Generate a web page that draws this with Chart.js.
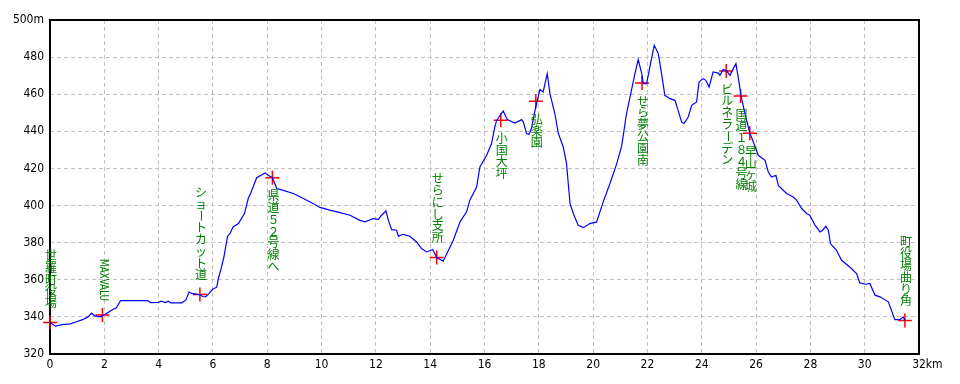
<!DOCTYPE html>
<html lang="ja">
<head>
  <meta charset="UTF-8">
  <title>高低図 - 世羅町</title>
  <script src="https://cdn.jsdelivr.net/npm/chart.js"></script>
  <style>
    html, body { margin: 0; padding: 0; background: #fff; }
  </style>
</head>
<body>
  <canvas id="profileChart" width="960" height="384"></canvas>

  <script>
    // 距離 (km)
    const distKm = [
      0.00, 0.20, 0.45, 0.75, 1.00, 1.20, 1.40, 1.53, 1.65, 1.85,
      2.05, 2.25, 2.45, 2.60, 3.60, 3.70, 4.00, 4.10, 4.25, 4.35,
      4.45, 4.85, 5.00, 5.12, 5.25, 5.50, 5.62, 5.73, 5.85, 6.00,
      6.14, 6.20, 6.30, 6.40, 6.54, 6.63, 6.74, 6.94, 7.16, 7.30,
      7.40, 7.61, 7.92, 8.04, 8.19, 8.35, 8.59, 8.96, 9.33, 9.70,
      9.94, 10.30, 10.68, 11.05, 11.41, 11.60, 11.90, 12.09, 12.21, 12.37,
      12.46, 12.58, 12.76, 12.83, 13.00, 13.25, 13.50, 13.68, 13.87, 14.09,
      14.24, 14.48, 14.85, 15.10, 15.34, 15.46, 15.71, 15.83, 16.08, 16.26,
      16.38, 16.45, 16.69, 16.84, 17.12, 17.37, 17.43, 17.55, 17.64, 17.73,
      17.86, 18.04, 18.16, 18.31, 18.41, 18.59, 18.72, 18.90, 19.02, 19.15,
      19.27, 19.45, 19.64, 19.88, 20.13, 20.37, 20.62, 20.87, 21.05, 21.23,
      21.54, 21.66, 21.79, 21.85, 21.97, 22.09, 22.25, 22.40, 22.52, 22.64,
      22.83, 23.01, 23.13, 23.26, 23.35, 23.50, 23.63, 23.81, 23.90, 24.05,
      24.15, 24.27, 24.42, 24.61, 24.67, 24.79, 24.92, 25.04, 25.16, 25.26,
      25.38, 25.45, 25.59, 25.77, 25.90, 26.08, 26.33, 26.45, 26.57, 26.73,
      26.82, 27.12, 27.37, 27.49, 27.68, 27.86, 27.98, 28.17, 28.36, 28.45,
      28.57, 28.66, 28.74, 28.96, 29.15, 29.45, 29.70, 29.82, 30.04, 30.19,
      30.38, 30.56, 30.87, 31.11, 31.30, 31.42, 31.48
    ];

    // 標高 (m)
    const elevM = [
      337, 335, 335.8, 336.2, 337.5, 338.5, 340, 342, 340.5, 340,
      341.5, 343.5, 345, 348.8, 348.8, 347.7, 347.8, 348.5, 347.7, 348.5,
      347.6, 347.6, 349, 353.4, 352.5, 352, 351, 350.8, 352.5, 355,
      356, 360.7, 366, 372, 383.5, 385, 388.5, 390.3, 395.7, 403.8,
      407, 415, 417.6, 416.3, 415, 409.2, 408.2, 406.5, 403.8, 401,
      399, 397.5, 396.2, 394.8, 392, 391.2, 393, 392.6, 394.8, 397.1,
      392, 387, 386.7, 383.5, 384.5, 383.5, 380.4, 376.8, 375, 376.3,
      372, 370, 381.3, 391.2, 396.6, 402.9, 410, 420.8, 427.1, 433.4,
      442.4, 446, 451, 446.3, 444.5, 446.3, 445, 438.8, 438.3, 441.5,
      451.3, 462.5, 461.2, 471.1, 460.3, 449.6, 438.8, 431.6, 422.6, 401,
      395.7, 389.4, 388.1, 390.3, 391.2, 402, 411.9, 422.6, 432, 449.6,
      471.1, 478.7, 471.1, 465.7, 465.7, 474.7, 486.4, 481.9, 471.1, 459.4,
      457.6, 456.7, 451.3, 445, 444.2, 447.7, 454, 455.8, 466.6, 468.4,
      467.5, 463.9, 472, 471.4, 470.2, 473.3, 472.5, 470.2, 473.8, 476.5,
      465.7, 459, 449.6, 439.1, 434.3, 427.1, 424.4, 418.1, 415.4, 416.3,
      410.9, 406.5, 404.6, 402.9, 398.4, 395.7, 394.8, 389.4, 385.8, 386.7,
      388.8, 386.7, 379.5, 375.9, 370.5, 366.9, 363.4, 358.3, 357.6, 358,
      351.7, 350.8, 348.1, 338.5, 338.5, 340, 338
    ];

    // 地点
    const pointKm = [0, 1.93, 5.52, 8.19, 14.24, 16.6, 17.89, 21.8, 24.9, 25.43, 25.77, 31.48];
    const pointElev = [337, 341, 352, 415, 372, 446, 456.2, 466, 472.5, 459, 439, 338];
    const pointNames = [
      '世羅町役場', 'MAXVALU', 'ショートカット道', '県道５２号線へ', 'せらにし支所', '小国大坪',
      '弘楽園', 'せら夢公園南', 'ビルネラーデン', '国道１８４号線', '早山ヶ城', '町役場曲り角'
    ];

    const xUnit = 'km';
    const yUnit = 'm';

    const tickFont = { family: "'DejaVu Sans Condensed', 'DejaVu Sans', sans-serif", size: 12 };

    // 枠線と縦書きラベル
    const profileLabels = {
      id: 'profileLabels',
      beforeDatasetsDraw(chart) {
        const { ctx, chartArea: a } = chart;
        ctx.save();
        ctx.strokeStyle = '#000';
        ctx.lineWidth = 2;
        ctx.strokeRect(a.left, a.top, a.right - a.left, a.bottom - a.top);
        ctx.restore();
      },
      afterDatasetsDraw(chart, args, opts) {
        const { ctx, scales: { x, y } } = chart;
        const step = 11.8;
        ctx.save();
        ctx.fillStyle = '#008000';
        ctx.font = '12px "Noto Sans CJK JP"';
        ctx.textAlign = 'center';
        ctx.textBaseline = 'top';

        pointNames.forEach((name, i) => {
          const px = x.getPixelForValue(pointKm[i]) + 1;
          const py = y.getPixelForValue(pointElev[i]);
          const below = opts.below.includes(i);

          if (/^[A-Z]+$/.test(name)) {
            // 英字は90度回転
            const len = 42;
            ctx.save();
            ctx.translate(px, py - 14 - len);
            ctx.rotate(Math.PI / 2);
            ctx.font = "12px 'DejaVu Sans Condensed', sans-serif";
            ctx.textAlign = 'left';
            ctx.textBaseline = 'middle';
            ctx.fillText(name, 0, 0, len);
            ctx.restore();
            return;
          }

          const chars = [...name];
          const top = below ? py + 12 : py - 14 - chars.length * step;
          chars.forEach((c, k) => {
            const cy = top + k * step;
            if (c === 'ー') {
              ctx.save();
              ctx.translate(px, cy + step / 2);
              ctx.rotate(Math.PI / 2);
              ctx.textBaseline = 'middle';
              ctx.fillText(c, 0, 0);
              ctx.restore();
            } else {
              ctx.fillText(c, px, cy);
            }
          });
        });

        // 最後の目盛りに単位
        ctx.fillStyle = '#000';
        ctx.font = '12px ' + tickFont.family;
        ctx.textAlign = 'left';
        ctx.textBaseline = 'middle';
        const last = x.max;
        const lx = x.getPixelForValue(last) + ctx.measureText(String(last)).width / 2;
        ctx.fillText(xUnit, lx, x.top + 4 + 7.2);
        ctx.restore();
      }
    };

    new Chart(document.getElementById('profileChart'), {
      type: 'line',
      data: {
        datasets: [
          {
            data: distKm.map((d, i) => ({ x: d, y: elevM[i] })),
            borderColor: '#0000ff',
            borderWidth: 1.2,
            pointRadius: 0,
            tension: 0,
            fill: false
          },
          {
            data: pointKm.map((d, i) => ({ x: d, y: pointElev[i] })),
            showLine: false,
            pointStyle: 'cross',
            pointRadius: 7,
            pointBorderColor: '#ff0000',
            pointBorderWidth: 1.5,
            borderColor: '#ff0000',
            clip: false
          }
        ]
      },
      options: {
        responsive: false,
        animation: false,
        devicePixelRatio: 1,
        layout: { padding: { left: 0, right: 41, top: 20, bottom: 0 } },
        plugins: {
          legend: { display: false },
          tooltip: { enabled: false },
          profileLabels: { below: [3, 5, 6, 7, 8, 9, 10] }
        },
        scales: {
          x: {
            type: 'linear',
            min: 0,
            max: 32,
            afterFit: s => { s.height = 30; },
            ticks: { stepSize: 2, autoSkip: false, maxRotation: 0, padding: 4, color: '#000', font: tickFont },
            grid: { color: '#c0c0c0', lineWidth: 1, drawTicks: false },
            border: { display: false, dash: [4, 3] }
          },
          y: {
            min: 320,
            max: 500,
            afterFit: s => { s.width = 50; },
            ticks: {
              stepSize: 20,
              padding: 6,
              color: '#000',
              font: tickFont,
              callback: v => v === 500 ? v + yUnit : v
            },
            grid: { color: '#c0c0c0', lineWidth: 1, drawTicks: false },
            border: { display: false, dash: [4, 3] }
          }
        }
      },
      plugins: [profileLabels]
    });
  </script>
</body>
</html>
